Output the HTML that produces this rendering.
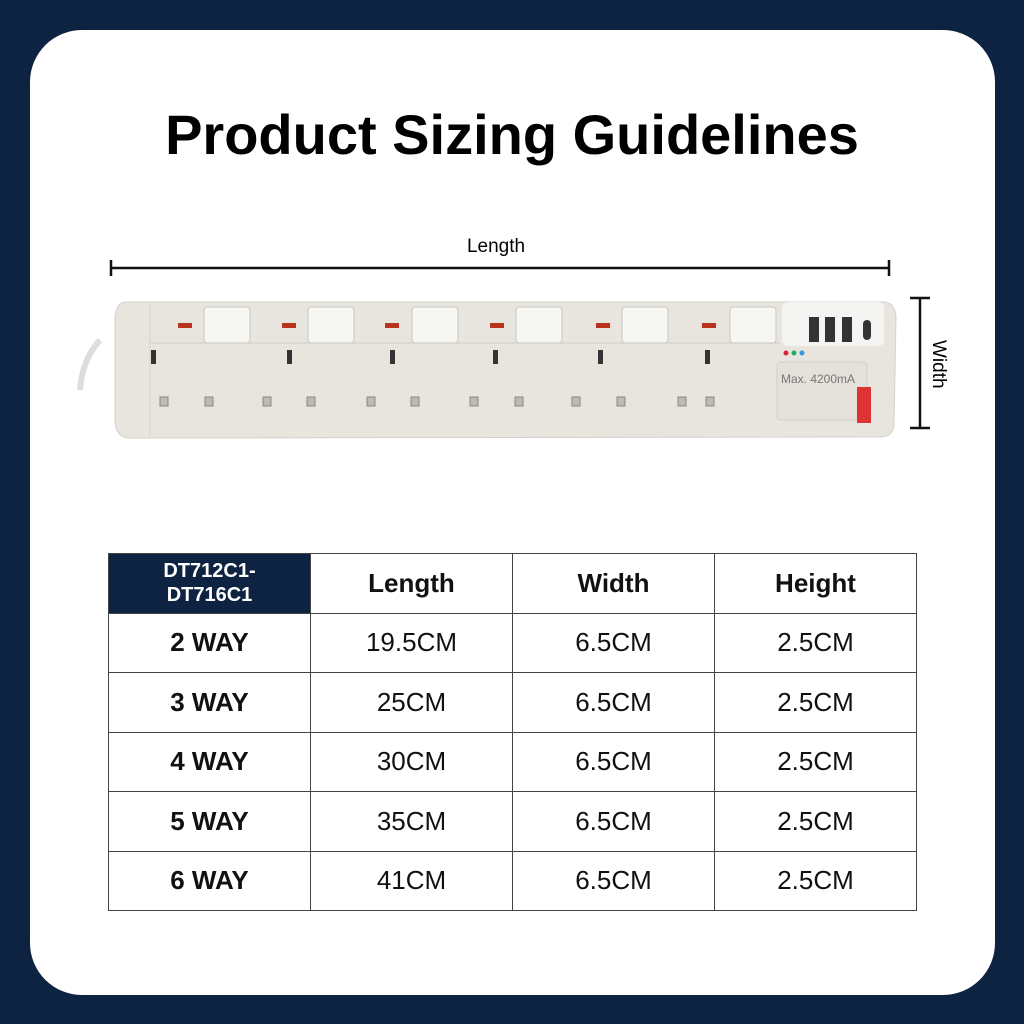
<!DOCTYPE html>
<html><head><meta charset="utf-8"><style>
body{margin:0;width:1024px;height:1024px;background:#0d2341;position:relative;overflow:hidden;font-family:"Liberation Sans",sans-serif}
.card{position:absolute;left:30px;top:30px;width:965px;height:965px;background:#fff;border-radius:52px}
.t{position:absolute;left:0;width:1024px;text-align:center;top:102px;font-size:56px;font-weight:bold;color:#000}
table{position:absolute;left:108px;top:553px;border-collapse:collapse;width:809px}
td{border:1.5px solid #444;height:58.5px;text-align:center;font-size:26px;color:#111;width:200px;padding:0}
td.h{font-weight:bold}
td.b{font-weight:bold}
td.hd{background:#0d2341;color:#fff;font-weight:bold;font-size:20px;line-height:24px}
</style></head><body>
<div class="card"></div>
<div class="t">Product Sizing Guidelines</div>
<svg style="position:absolute;left:0;top:0" width="1024" height="1024">
<text x="496" y="252" font-size="19" text-anchor="middle" font-family="Liberation Sans">Length</text>
<line x1="111" y1="268" x2="889" y2="268" stroke="#111" stroke-width="2.5"/>
<line x1="111" y1="260" x2="111" y2="276" stroke="#111" stroke-width="2.5"/>
<line x1="889" y1="260" x2="889" y2="276" stroke="#111" stroke-width="2.5"/>
<line x1="920" y1="298" x2="920" y2="428" stroke="#111" stroke-width="2.5"/>
<line x1="910" y1="298" x2="930" y2="298" stroke="#111" stroke-width="2.5"/>
<line x1="910" y1="428" x2="930" y2="428" stroke="#111" stroke-width="2.5"/>
<text x="0" y="0" font-size="19" transform="translate(933,340) rotate(90)" font-family="Liberation Sans">Width</text>
<path d="M100 340 Q82 360 80 390" stroke="#ddd" stroke-width="6" fill="none"/>
<path d="M125 302 L885 302 Q896 304 896 318 L894 425 Q893 437 880 437 L128 438 Q115 436 115 420 L115 318 Q116 303 125 302Z" fill="#e7e5de" stroke="#d4d2ca"/>
<line x1="150" y1="343" x2="780" y2="343" stroke="#d0cec6"/>
<line x1="150" y1="303" x2="150" y2="436" stroke="#d6d4cc"/>
<g fill="#f6f6f3" stroke="#c8c6be">
<rect x="204" y="307" width="46" height="36" rx="3"/><rect x="308" y="307" width="46" height="36" rx="3"/>
<rect x="412" y="307" width="46" height="36" rx="3"/><rect x="516" y="307" width="46" height="36" rx="3"/>
<rect x="622" y="307" width="46" height="36" rx="3"/><rect x="730" y="307" width="46" height="36" rx="3"/>
</g>
<g fill="#b8321e">
<rect x="178" y="323" width="14" height="5"/><rect x="282" y="323" width="14" height="5"/>
<rect x="385" y="323" width="14" height="5"/><rect x="490" y="323" width="14" height="5"/>
<rect x="596" y="323" width="14" height="5"/><rect x="702" y="323" width="14" height="5"/>
</g>
<g fill="#333">
<rect x="151" y="350" width="5" height="14"/><rect x="287" y="350" width="5" height="14"/>
<rect x="390" y="350" width="5" height="14"/><rect x="493" y="350" width="5" height="14"/>
<rect x="598" y="350" width="5" height="14"/><rect x="705" y="350" width="5" height="14"/>
</g>
<g fill="#bcbab2" stroke="#888">
<rect x="160" y="397" width="8" height="9"/><rect x="205" y="397" width="8" height="9"/>
<rect x="263" y="397" width="8" height="9"/><rect x="307" y="397" width="8" height="9"/>
<rect x="367" y="397" width="8" height="9"/><rect x="411" y="397" width="8" height="9"/>
<rect x="470" y="397" width="8" height="9"/><rect x="515" y="397" width="8" height="9"/>
<rect x="572" y="397" width="8" height="9"/><rect x="617" y="397" width="8" height="9"/>
<rect x="678" y="397" width="8" height="9"/><rect x="706" y="397" width="8" height="9"/>
</g>
<rect x="782" y="302" width="102" height="44" rx="6" fill="#f4f4f2"/>
<g fill="#333"><rect x="809" y="317" width="10" height="25"/><rect x="825" y="317" width="10" height="25"/><rect x="842" y="317" width="10" height="25"/><rect x="863" y="320" width="8" height="20" rx="4"/></g>
<circle cx="786" cy="353" r="2.5" fill="#d23"/><circle cx="794" cy="353" r="2.5" fill="#2a6"/><circle cx="802" cy="353" r="2.5" fill="#39d"/>
<rect x="777" y="362" width="90" height="58" rx="4" fill="#e3e1da" stroke="#d0cec6"/>
<text x="781" y="383" font-size="12" fill="#777" font-family="Liberation Sans">Max. 4200mA</text>
<rect x="857" y="387" width="14" height="36" fill="#d33"/>
</svg>
<table>
<tr><td class="hd">DT712C1-<br>DT716C1</td><td class="h">Length</td><td class="h">Width</td><td class="h">Height</td></tr>
<tr><td class="b">2 WAY</td><td>19.5CM</td><td>6.5CM</td><td>2.5CM</td></tr>
<tr><td class="b">3 WAY</td><td>25CM</td><td>6.5CM</td><td>2.5CM</td></tr>
<tr><td class="b">4 WAY</td><td>30CM</td><td>6.5CM</td><td>2.5CM</td></tr>
<tr><td class="b">5 WAY</td><td>35CM</td><td>6.5CM</td><td>2.5CM</td></tr>
<tr><td class="b">6 WAY</td><td>41CM</td><td>6.5CM</td><td>2.5CM</td></tr>
</table>
</body></html>
